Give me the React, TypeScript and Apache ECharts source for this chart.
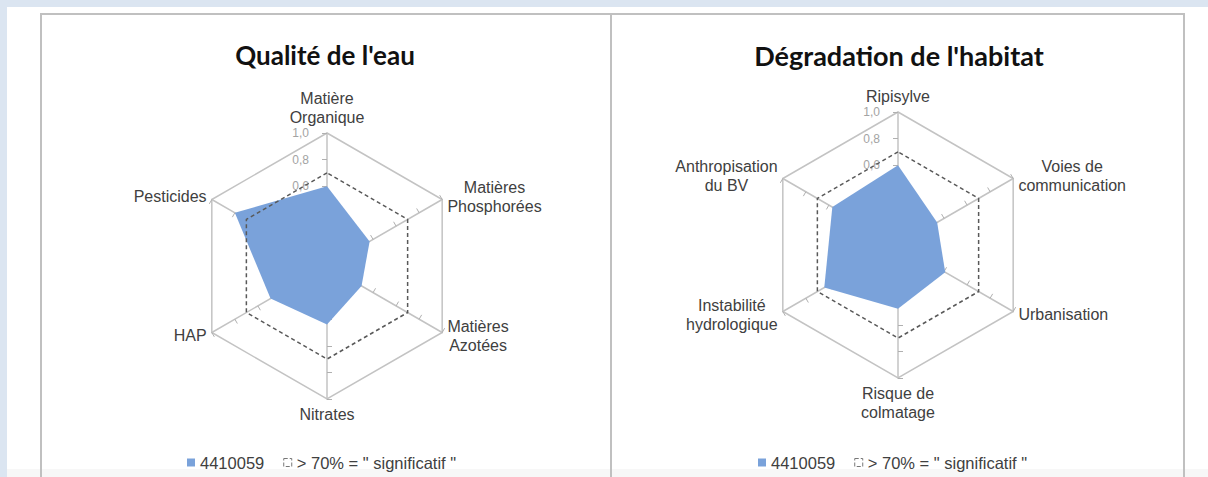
import React, { useEffect, useRef } from "react";
import * as echarts from "echarts";

// ---- data ----
const eauTitle = "Qualité de l'eau";
const habitatTitle = "Dégradation de l'habitat";
const eauCategories = ["Matière\nOrganique", "Matières\nPhosphorées", "Matières\nAzotées", "Nitrates", "HAP", "Pesticides"];
const eauValues = [0.6, 0.37, 0.3, 0.44, 0.49, 0.8];
const habitatCategories = ["Ripisylve", "Voies de\ncommunication", "Urbanisation", "Risque de\ncolmatage", "Instabilité\nhydrologique", "Anthropisation\ndu BV"];
const habitatValues = [0.6, 0.34, 0.41, 0.48, 0.64, 0.57];
const eauThreshold = [0.7, 0.7, 0.7, 0.7, 0.7, 0.7];
const habitatThreshold = [0.7, 0.7, 0.7, 0.7, 0.7, 0.7];
const stationName = "4410059";
const thresholdName = '> 70% = " significatif "';
const axisMin = 0;
const axisMax = 1;

// ECharts lays radar indicators counter-clockwise; the reference is clockwise.
const cw = <T,>(arr: T[]): T[] => [arr[0], ...arr.slice(1).reverse()];

const BLUE = "#7aa2da";
const GRID = "#c3c3c3";
const TEXT = "#404040";
const FONT = "Liberation Sans, Arial, sans-serif";

function radarCfg(cats: string[], center: number[], radius: number) {
  return {
    center,
    radius,
    startAngle: 90,
    shape: "polygon",
    splitNumber: 5,
    indicator: cw(cats).map((name, i) =>
      i === 0
        ? { name, min: axisMin, max: axisMax }
        : { name, min: axisMin, max: axisMax, axisLabel: { show: false } }
    ),
    axisName: {
      color: TEXT,
      fontFamily: FONT,
      fontSize: 16,
      lineHeight: 19,
      formatter: (name: string) => name.split("\n").map((l) => `{c|${l}}`).join("\n"),
      rich: { c: { align: "center", color: TEXT, fontFamily: FONT, fontSize: 16, lineHeight: 19 } },
    },
    nameGap: 6,
    axisLine: { lineStyle: { color: GRID, width: 1.5 } },
    splitLine: {
      lineStyle: { color: ["transparent", "transparent", "transparent", "transparent", "transparent", GRID], width: 1.5 },
    },
    splitArea: { show: false },
    axisTick: { show: true, length: 5, lineStyle: { color: "#b0b0b0", width: 1 } },
    axisLabel: {
      show: true,
      color: "#a3a3a3",
      fontSize: 12,
      fontFamily: FONT,
      margin: 18,
      formatter: (v: number) => v.toFixed(1).replace(".", ","),
    },
  };
}

function seriesFor(radarIndex: number, values: number[], threshold: number[]) {
  return {
    type: "radar",
    radarIndex,
    symbol: "none",
    data: [
      {
        name: stationName,
        value: cw(values),
        itemStyle: { color: BLUE },
        lineStyle: { width: 0, color: BLUE },
        areaStyle: { color: BLUE, opacity: 1 },
      },
      {
        name: thresholdName,
        value: cw(threshold),
        itemStyle: { color: "#595959" },
        lineStyle: { width: 1.5, color: "#595959", type: [4, 3] },
      },
    ],
  };
}

function legendCfg(left: number) {
  return {
    left,
    top: 449,
    itemWidth: 8,
    itemHeight: 8,
    itemGap: 19,
    textStyle: { color: TEXT, fontSize: 16.5, fontFamily: FONT },
    data: [
      { name: stationName, icon: "rect", itemStyle: { color: BLUE } },
      {
        name: thresholdName,
        icon: "rect",
        itemStyle: { color: "transparent", borderColor: "#777", borderWidth: 1, borderType: "dashed" },
      },
    ],
  };
}

export default function App() {
  const ref = useRef<HTMLDivElement>(null);
  useEffect(() => {
    if (!ref.current) return;
    const chart = echarts.init(ref.current, undefined, { renderer: "svg" });
    const option: any = {
      animation: false,
      backgroundColor: "#ffffff",
      graphic: [
        { type: "rect", shape: { x: 0, y: 0, width: 1208, height: 7 }, style: { fill: "#dbe5f1" }, z: -1 },
        { type: "rect", shape: { x: 0, y: 0, width: 7, height: 477 }, style: { fill: "#dbe5f1" }, z: -1 },
        { type: "rect", shape: { x: 7, y: 469, width: 1201, height: 8 }, style: { fill: "#f7f7f7" }, z: -1 },
        { type: "line", shape: { x1: 40, y1: 14, x2: 1184, y2: 14 }, style: { stroke: "#c0c0c0", lineWidth: 2 } },
        { type: "line", shape: { x1: 41, y1: 13, x2: 41, y2: 477 }, style: { stroke: "#c0c0c0", lineWidth: 2 } },
        { type: "line", shape: { x1: 611, y1: 13, x2: 611, y2: 477 }, style: { stroke: "#c0c0c0", lineWidth: 2 } },
        { type: "line", shape: { x1: 1184, y1: 13, x2: 1184, y2: 477 }, style: { stroke: "#c0c0c0", lineWidth: 2 } },
        {
          type: "text",
          x: 325,
          y: 55,
          style: { text: eauTitle, fill: "#111", font: "bold 26px Lato, sans-serif", textAlign: "center", textVerticalAlign: "middle" },
        },
        {
          type: "text",
          x: 899,
          y: 55,
          style: { text: habitatTitle, fill: "#111", font: "bold 27px Lato, sans-serif", textAlign: "center", textVerticalAlign: "middle" },
        },
      ],
      radar: [radarCfg(eauCategories, [327, 266], 133), radarCfg(habitatCategories, [898, 245], 133)],
      legend: [legendCfg(182), legendCfg(753)],
      series: [seriesFor(0, eauValues, eauThreshold), seriesFor(1, habitatValues, habitatThreshold)],
    };
    chart.setOption(option);
    return () => chart.dispose();
  }, []);
  return <div ref={ref} style={{ position: "absolute", left: 0, top: 0, width: 1208, height: 477 }} />;
}
